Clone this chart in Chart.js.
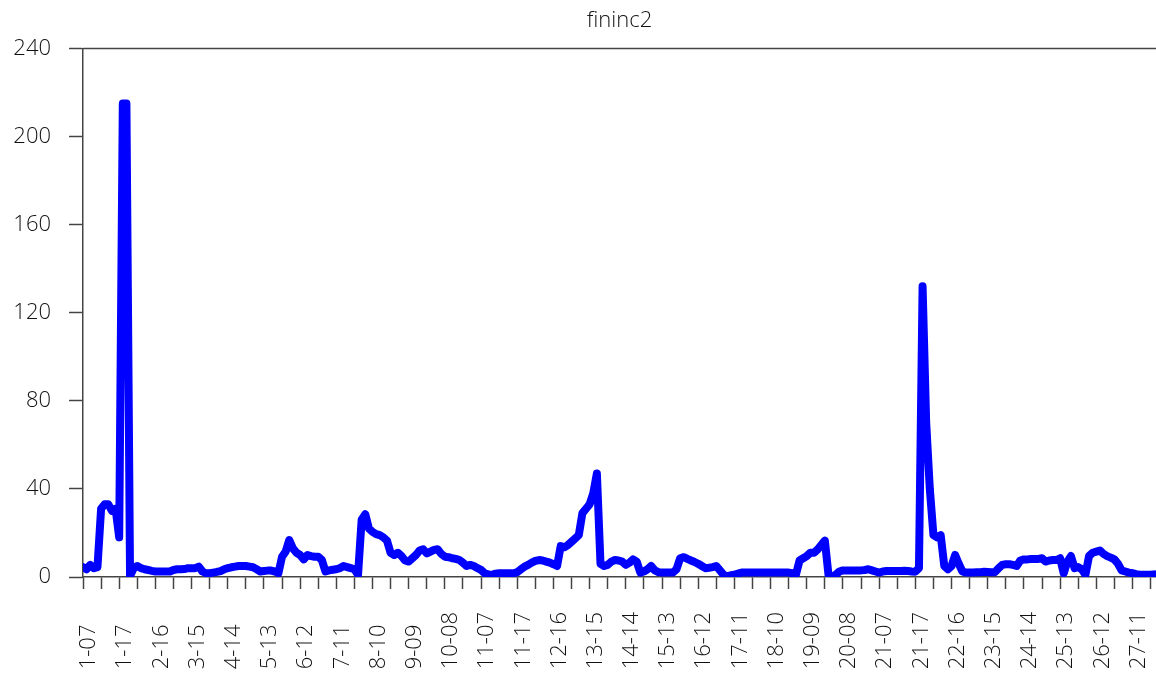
<!DOCTYPE html>
<html>
<head>
<meta charset="utf-8">
<script src="https://cdn.jsdelivr.net/npm/chart.js@4.4.1/dist/chart.umd.min.js"></script>
<style>
    html, body { margin: 0; padding: 0; background: #fff; overflow: hidden; }
    #wrap { width: 1156px; height: 678px; position: relative; }
</style>
</head>
<body>
<div id="wrap"><canvas id="chart"></canvas></div>
<script>
// Panel: 27 ids x years 07..17
var ids = [1, 2, 3, 4, 5, 6, 7, 8, 9, 10, 11, 12, 13, 14, 15, 16, 17, 18, 19, 20, 21, 22, 23, 24, 25, 26, 27];
var years = ["07", "08", "09", "10", "11", "12", "13", "14", "15", "16", "17"];

// fininc2, in order id-year (11 values per line)
var fininc2 = [
    4.5, 3.5, 5.5, 4, 4.5, 31, 33, 33, 30, 31, 18,
    215, 215, 0.5, 4, 5, 4, 3.5, 3.2, 2.8, 2.5, 2.5,
    2.5, 2.5, 2.5, 3.2, 3.5, 3.5, 3.6, 4, 4, 4, 4.7,
    2.5, 1.7, 1.7, 2, 2.3, 2.7, 3.5, 4, 4.4, 4.7, 5,
    5, 5, 4.7, 4.4, 3.5, 2.5, 2.7, 2.9, 2.9, 2.5, 1.7,
    9.2, 11.5, 16.8, 13, 11, 10, 8, 10, 9.5, 9.2, 9.2,
    7.7, 2.5, 3, 3.3, 3.5, 4, 5, 4.5, 4, 3.5, 1,
    26, 28.5, 22, 20.5, 19.5, 19, 18, 16.5, 11, 10, 11,
    9.5, 7.5, 7, 8.5, 10, 12, 12.6, 10.7, 11.5, 12.3, 12.6,
    10.5, 9.2, 9, 8.5, 8.2, 7.7, 6.5, 5, 5.5, 5, 4,
    3.2, 1.7, 1.2, 1, 1.5, 1.7, 1.7, 1.7, 1.7, 1.7, 2.2,
    3.5, 4.7, 5.5, 6.5, 7.3, 7.7, 7.5, 7, 6.5, 5.8, 5,
    14, 13.5, 14.5, 16, 17.5, 19, 29, 31, 33, 38, 47,
    6, 5, 5.5, 7, 7.7, 7.5, 7, 5.5, 6.5, 8, 7,
    2, 2.5, 3.5, 5, 3, 2.2, 2, 2, 2, 2, 3.5,
    8.5, 9, 8.2, 7.5, 6.8, 6, 5, 4, 4.2, 4.5, 5,
    3, 1, 0.3, 0.8, 1, 1.5, 2, 2, 2, 2, 2,
    2, 2, 2, 2, 2, 2, 2, 2, 2, 1.7, 1,
    7.5, 8.5, 9.5, 11, 11, 12.5, 14.5, 16.5, 1, 0.2, 1,
    2.5, 3, 3, 3, 3, 3, 3, 3.2, 3.5, 3, 2.5,
    2, 2.5, 2.7, 2.7, 2.7, 2.7, 2.7, 2.8, 2.7, 2.5, 2.4,
    4, 132, 70, 40, 19, 18, 19, 5, 3.5, 5, 10,
    6, 2.5, 2, 2, 2, 2.2, 2.2, 2.4, 2.3, 2.2, 2.2,
    4, 5.5, 5.8, 5.8, 5.5, 5, 7.5, 8, 8, 8.2, 8.2,
    8.2, 8.5, 7, 7.5, 7.7, 7.7, 8.5, 1.7, 7, 9.5, 4,
    4.5, 3.5, 1, 9.5, 11, 11.5, 12, 10.5, 9.5, 8.8, 8,
    6, 3, 2.5, 2, 1.7, 1.3, 1, 1, 1, 1, 1.2
];

var yMin = 0, yMax = 240, yStep = 40;
var labelEvery = 10, tickEvery = 5;

// "id-yy" label for an observation; short ids padded so all labels start at the same spot
function obsLabel(i) {
    var id = ids[Math.floor(i / years.length)];
    var s = id + "-" + years[i % years.length];
    return id < 10 ? s + "\u2007" : s;
}

var points = fininc2.map(function (v, i) { return { x: i, y: v }; });

var axisColor = "#444";
var textColor = "#111";
var fontFamily = "'Open Sans', 'Noto Sans', sans-serif";

// top frame line
var topLine = {
    id: "topLine",
    afterDraw: function (chart) {
        var ctx = chart.ctx, a = chart.chartArea;
        ctx.save();
        ctx.strokeStyle = axisColor;
        ctx.lineWidth = 1.5;
        ctx.beginPath();
        ctx.moveTo(a.left, a.top);
        ctx.lineTo(chart.width, a.top);
        ctx.stroke();
        ctx.restore();
    }
};

var ctx = document.getElementById("chart").getContext("2d");
var chart = new Chart(ctx, {
    type: "line",
    data: {
        datasets: [{
            label: "fininc2",
            data: points,
            borderColor: "#0000ff",
            borderWidth: 8,
            pointRadius: 0,
            tension: 0,
            borderJoinStyle: "round",
            borderCapStyle: "round"
        }]
    },
    options: {
        responsive: true,
        maintainAspectRatio: false,
        animation: false,
        layout: { padding: 0 },
        plugins: {
            legend: { display: false },
            tooltip: { enabled: false },
            title: {
                display: true,
                text: "fininc2",
                fullSize: false,
                color: textColor,
                font: { family: fontFamily, size: 22, weight: 300 },
                padding: { top: 8, bottom: 14 }
            }
        },
        scales: {
            x: {
                type: "linear",
                min: 0,
                max: fininc2.length - 0.5,
                afterFit: function (s) {
                    s.height = 101;
                    s.paddingLeft = 0;
                    s.paddingRight = 0;
                },
                grid: { drawOnChartArea: false, tickLength: 12, tickColor: axisColor, tickWidth: 1.5 },
                border: { color: axisColor, width: 1.5 },
                ticks: {
                    stepSize: tickEvery,
                    includeBounds: false,
                    autoSkip: false,
                    minRotation: 90,
                    maxRotation: 90,
                    padding: 23,
                    labelOffset: 6,
                    color: textColor,
                    font: { family: fontFamily, size: 22, weight: 300 },
                    callback: function (v) {
                        var i = Math.round(v);
                        return i % labelEvery === 0 ? obsLabel(i) : "";
                    }
                }
            },
            y: {
                min: yMin,
                max: yMax,
                afterFit: function (s) { s.width = 83; },
                grid: { drawOnChartArea: false, tickLength: 14, tickColor: axisColor, tickWidth: 1.5 },
                border: { color: axisColor, width: 1.5 },
                ticks: {
                    stepSize: yStep,
                    padding: 18,
                    color: textColor,
                    font: { family: fontFamily, size: 22, weight: 300 }
                }
            }
        }
    },
    plugins: [topLine]
});
</script>
</body>
</html>
